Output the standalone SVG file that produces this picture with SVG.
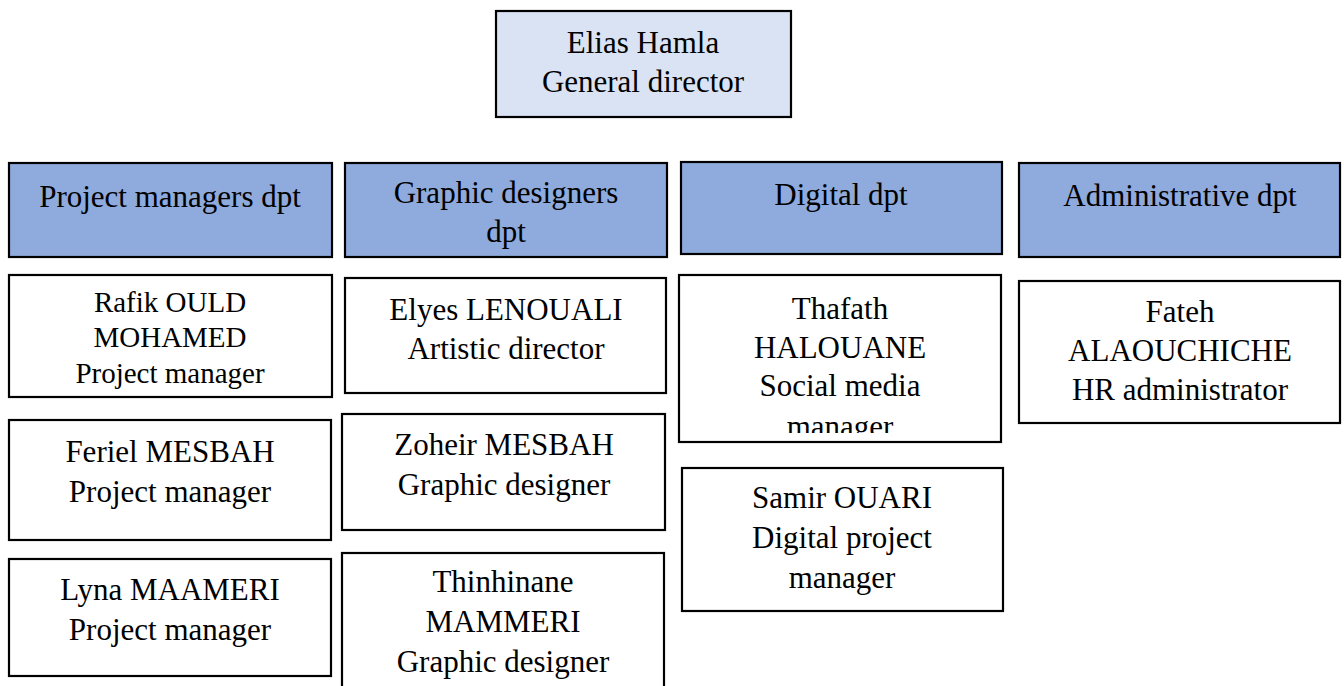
<svg xmlns="http://www.w3.org/2000/svg" width="1344" height="686" viewBox="0 0 1344 686">
  <style>
    .box { stroke: #000; stroke-width: 2.2; }
    .head { fill: #dae3f3; }
    .dept { fill: #8faadc; }
    .person { fill: #fff; }
    text { font-family: "Liberation Serif", "Times New Roman", serif; font-size: 31px; fill: #000; text-anchor: middle; }
    .sm { font-size: 29px; }
  </style>
  <defs>
    <clipPath id="clip-rafik"><rect x="10" y="276" width="320" height="113"/></clipPath>
    <clipPath id="clip-thafath"><rect x="680" y="276" width="320" height="157"/></clipPath>
  </defs>
  <rect width="1344" height="686" fill="#fff"/>

  <g id="director">
    <rect class="box head" x="496" y="11" width="295" height="106"/>
    <text x="643" y="53">Elias Hamla</text>
    <text x="643" y="92">General director</text>
  </g>

  <!-- departments -->
  <g id="dept-project">
    <rect class="box dept" x="9" y="163" width="323" height="94"/>
    <text x="170" y="207">Project managers dpt</text>
  </g>
  <g id="dept-graphic">
    <rect class="box dept" x="345" y="163" width="322" height="94"/>
    <text x="506" y="203">Graphic designers</text>
    <text x="506" y="242">dpt</text>
  </g>
  <g id="dept-digital">
    <rect class="box dept" x="681" y="162" width="321" height="92"/>
    <text x="841" y="205">Digital dpt</text>
  </g>
  <g id="dept-admin">
    <rect class="box dept" x="1019" y="163" width="321" height="94"/>
    <text x="1180" y="206">Administrative dpt</text>
  </g>

  <!-- project managers -->
  <g id="rafik">
    <rect class="box person" x="9" y="275" width="323" height="122"/>
    <g clip-path="url(#clip-rafik)">
      <text class="sm" x="170" y="312">Rafik OULD</text>
      <text class="sm" x="170" y="347">MOHAMED</text>
      <text class="sm" x="170" y="383">Project manager</text>
    </g>
  </g>
  <g id="feriel">
    <rect class="box person" x="9" y="420" width="322" height="120"/>
    <text x="170" y="462">Feriel MESBAH</text>
    <text x="170" y="502">Project manager</text>
  </g>
  <g id="lyna">
    <rect class="box person" x="9" y="559" width="322" height="117"/>
    <text x="170" y="600">Lyna MAAMERI</text>
    <text x="170" y="640">Project manager</text>
  </g>

  <!-- graphic designers -->
  <g id="elyes">
    <rect class="box person" x="345" y="278" width="321" height="115"/>
    <text x="506" y="320">Elyes LENOUALI</text>
    <text x="506" y="359">Artistic director</text>
  </g>
  <g id="zoheir">
    <rect class="box person" x="342" y="414" width="323" height="116"/>
    <text x="504" y="455">Zoheir MESBAH</text>
    <text x="504" y="495">Graphic designer</text>
  </g>
  <g id="thinhinane">
    <rect class="box person" x="342" y="553" width="322" height="140"/>
    <text x="503" y="592">Thinhinane</text>
    <text x="503" y="632">MAMMERI</text>
    <text x="503" y="672">Graphic designer</text>
  </g>

  <!-- digital -->
  <g id="thafath">
    <rect class="box person" x="679" y="275" width="322" height="167"/>
    <g clip-path="url(#clip-thafath)">
      <text x="840" y="319">Thafath</text>
      <text x="840" y="358">HALOUANE</text>
      <text x="840" y="396">Social media</text>
      <text x="840" y="437">manager</text>
    </g>
  </g>
  <g id="samir">
    <rect class="box person" x="682" y="468" width="321" height="143"/>
    <text x="842" y="508">Samir OUARI</text>
    <text x="842" y="548">Digital project</text>
    <text x="842" y="588">manager</text>
  </g>

  <!-- administrative -->
  <g id="fateh">
    <rect class="box person" x="1019" y="281" width="321" height="142"/>
    <text x="1180" y="322">Fateh</text>
    <text x="1180" y="361">ALAOUCHICHE</text>
    <text x="1180" y="400">HR administrator</text>
  </g>
</svg>
